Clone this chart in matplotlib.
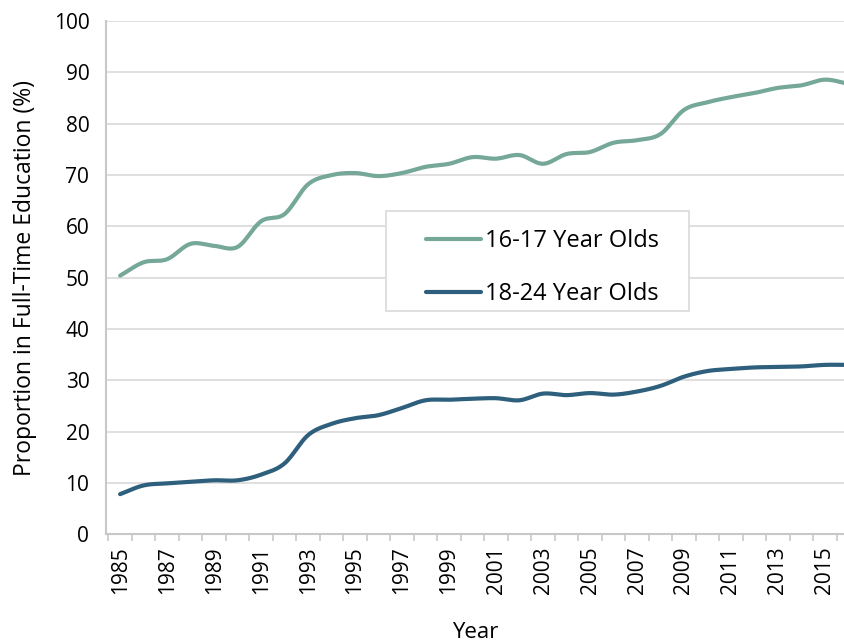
import numpy as np
import matplotlib
matplotlib.use("Agg")
import matplotlib.pyplot as plt
from matplotlib.ticker import FixedLocator
from matplotlib.patches import Rectangle

plt.rcParams['font.family'] = ['Open Sans', 'DejaVu Sans']

# data
years = list(range(1985, 2017))
age_16_17 = [50.4, 53.0, 53.6, 56.6, 56.2, 56.0, 61.0, 62.4, 68.2, 70.0,
             70.4, 69.8, 70.4, 71.6, 72.2, 73.5, 73.2, 73.9, 72.2, 74.1,
             74.5, 76.3, 76.8, 78.0, 82.7, 84.2, 85.2, 86.0, 87.0, 87.5,
             88.6, 87.8]
age_18_24 = [7.8, 9.5, 9.9, 10.2, 10.5, 10.5, 11.6, 13.8, 19.3, 21.5,
             22.6, 23.2, 24.6, 26.1, 26.2, 26.4, 26.5, 26.1, 27.4, 27.1,
             27.5, 27.2, 27.8, 28.9, 30.7, 31.8, 32.2, 32.5, 32.6, 32.7,
             33.0, 33.0]
labels = ['16-17 Year Olds', '18-24 Year Olds']
colors = ['#76a89a', '#2e5f7c']


def smooth(x, y, n=20):
    # catmull-rom style smoothing like Excel's "smoothed line"
    x = np.asarray(x, float)
    y = np.asarray(y, float)
    px = np.concatenate([[2 * x[0] - x[1]], x, [2 * x[-1] - x[-2]]])
    py = np.concatenate([[2 * y[0] - y[1]], y, [2 * y[-1] - y[-2]]])
    xs, ys = [], []
    t = np.linspace(0, 1, n, endpoint=False)
    for i in range(1, len(px) - 2):
        p0, p1, p2, p3 = py[i - 1], py[i], py[i + 1], py[i + 2]
        q0, q1, q2, q3 = px[i - 1], px[i], px[i + 1], px[i + 2]
        ys.append(0.5 * (2 * p1 + (-p0 + p2) * t + (2 * p0 - 5 * p1 + 4 * p2 - p3) * t ** 2
                         + (-p0 + 3 * p1 - 3 * p2 + p3) * t ** 3))
        xs.append(0.5 * (2 * q1 + (-q0 + q2) * t + (2 * q0 - 5 * q1 + 4 * q2 - q3) * t ** 2
                         + (-q0 + 3 * q1 - 3 * q2 + q3) * t ** 3))
    xs.append([x[-1]])
    ys.append([y[-1]])
    return np.concatenate(xs), np.concatenate(ys)


fig = plt.figure(figsize=(8.44, 6.42), dpi=100)
ax = fig.add_axes([0.1256, 0.168, 0.8744, 0.799])

for vals, lab, c in zip([age_16_17, age_18_24], labels, colors):
    sx, sy = smooth(years, vals)
    ax.plot(sx, sy, color=c, lw=3, label=lab, solid_capstyle='round')

ax.set_ylim(0, 100)
ax.set_xlim(1984.4, 2015.81)
ax.set_yticks(range(0, 101, 10))
ax.yaxis.grid(True, color='#d9d9d9', lw=1.2)
ax.set_axisbelow(True)

ax.set_xticks(years[::2])
ax.set_xticklabels([str(y) for y in years[::2]], rotation=90)
ax.xaxis.set_minor_locator(FixedLocator(np.arange(1984.5, 2017, 1)))
ax.tick_params(axis='x', which='major', length=0, pad=9, labelsize=15)
ax.tick_params(axis='x', which='minor', length=5, color='#c8c8c8', width=1.2)
ax.tick_params(axis='y', length=0, pad=12, labelsize=15)

for s in ['top', 'right']:
    ax.spines[s].set_visible(False)
for s in ['left', 'bottom']:
    ax.spines[s].set_color('#c8c8c8')
    ax.spines[s].set_linewidth(1.5)

ax.set_xlabel('Year', fontsize=16, labelpad=20)
ax.set_ylabel('Proportion in Full-Time Education (%)', fontsize=16.5, labelpad=12)

# legend box (Excel style, wider padding left/right)
box = Rectangle((0.3794, 0.4347), 0.4106, 0.1949, transform=ax.transAxes,
                facecolor='white', edgecolor='#d9d9d9', lw=1.2, zorder=4)
ax.add_patch(box)
leg = ax.legend(loc='upper left', bbox_to_anchor=(0.433, 0.594), fontsize=17,
                frameon=False, handlelength=2.35, borderpad=0, labelspacing=1.2,
                borderaxespad=0, handletextpad=0.15)
leg.set_zorder(5)

fig.savefig('out.png', dpi=100)
